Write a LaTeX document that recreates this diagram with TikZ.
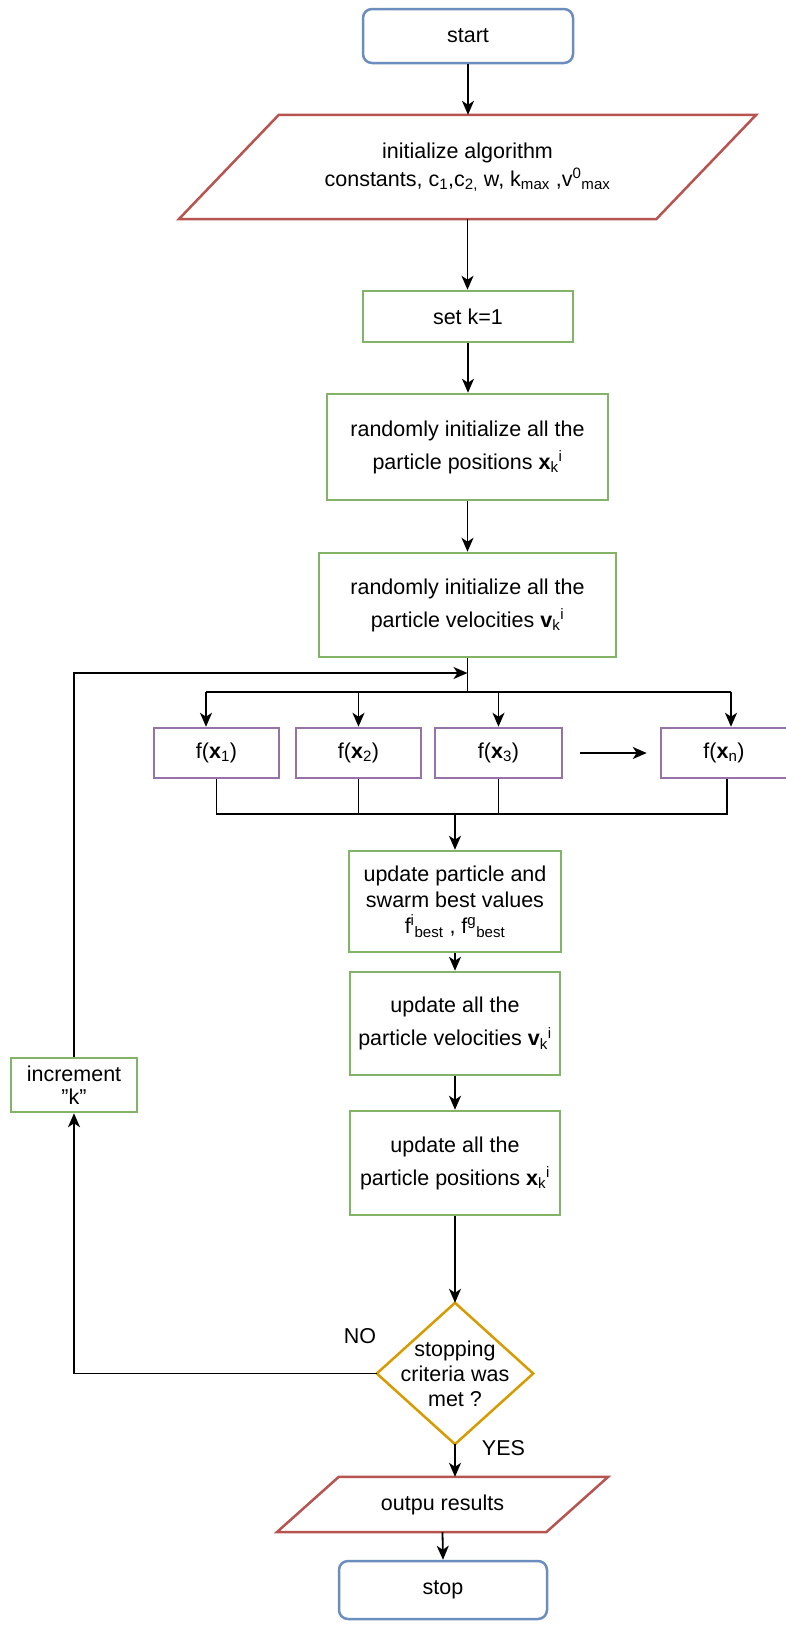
\documentclass[tikz,border=0pt]{standalone}
\usepackage{fontspec}
\setmainfont{Liberation Sans}
\usetikzlibrary{arrows.meta,calc}
\definecolor{cblue}{HTML}{6C8EBF}
\definecolor{cred}{HTML}{B85450}
\definecolor{cgreen}{HTML}{82B366}
\definecolor{cpurple}{HTML}{9673A6}
\definecolor{corange}{HTML}{D79B00}
\begin{document}
\begin{tikzpicture}[x=1pt,y=-1pt,
  every node/.style={font=\fontsize{21.5}{26}\selectfont, align=center, inner sep=0pt},
  term/.style={draw=cblue, rounded corners=9pt, line width=2.5pt, fill=white},
  proc/.style={draw=cgreen, line width=2.5pt, fill=white},
  fbox/.style={draw=cpurple, line width=2.5pt, fill=white, minimum height=50pt},
  shapeline/.style={line width=2.5pt},
  ln/.style={line width=1.8pt},
  arr/.style={line width=1.8pt, -{Stealth[length=14pt,width=12pt,inset=4pt]}},
]
\useasboundingbox (0,0) rectangle (785,1634);

% nodes
\node[term, minimum width=210pt, minimum height=54pt] (start) at (468,36) {start};
\node[minimum width=577pt, minimum height=104pt] (init) at (467.5,167)
  {initialize algorithm\\[2pt]constants, c\textsubscript{1},c\textsubscript{2,} w, k\textsubscript{max} ,v\textsuperscript{0}\textsubscript{max}};
\draw[shapeline, draw=cred] (init.south west) -- ([xshift=100pt]init.north west) -- (init.north east) -- ([xshift=-100pt]init.south east) -- cycle;
\node[proc, minimum width=210pt, minimum height=51pt] (setk) at (468,316.5) {set k=1};
\node[proc, minimum width=281pt, minimum height=106pt] (pos) at (467.5,447)
  {randomly initialize all the\\[7pt]particle positions \textbf{x}\textsubscript{k}\textsuperscript{i}};
\node[proc, minimum width=297pt, minimum height=104pt] (vel) at (467.5,605)
  {randomly initialize all the\\[7pt]particle velocities \textbf{v}\textsubscript{k}\textsuperscript{i}};

\node[fbox, minimum width=125pt] (f1) at (216.5,753) {f(\textbf{x}\textsubscript{1})};
\node[fbox, minimum width=125pt] (f2) at (358.5,753) {f(\textbf{x}\textsubscript{2})};
\node[fbox, minimum width=127pt] (f3) at (498.5,753) {f(\textbf{x}\textsubscript{3})};
\node[fbox, minimum width=126pt] (fn) at (724,753) {f(\textbf{x}\textsubscript{n})};

\node[proc, minimum width=212pt, minimum height=101pt] (upd1) at (455,901.5)
  {update particle and\\swarm best values\\f\textsuperscript{i}\textsubscript{best} , f\textsuperscript{g}\textsubscript{best}};
\node[proc, minimum width=210pt, minimum height=103pt] (upd2) at (455,1023.5)
  {update all the\\[7pt]particle velocities \textbf{v}\textsubscript{k}\textsuperscript{i}};
\node[proc, minimum width=210pt, minimum height=104pt] (upd3) at (455,1163)
  {update all the\\[7pt]particle positions \textbf{x}\textsubscript{k}\textsuperscript{i}};

\node[minimum width=156pt, minimum height=141pt] (dia) at (455,1373.5)
  {stopping\\[-1pt]criteria was\\[-1pt]met ?};
\draw[shapeline, draw=corange] (dia.north) -- (dia.east) -- (dia.south) -- (dia.west) -- cycle;

\node[proc, minimum width=126pt, minimum height=54pt] (inc) at (74,1085) {increment\\[-3pt]\symbol{34}k\symbol{34}};

\node[minimum width=331pt, minimum height=55pt] (out) at (442.5,1504.5) {outpu results};
\draw[shapeline, draw=cred] (out.south west) -- ([xshift=62pt]out.north west) -- (out.north east) -- ([xshift=-62pt]out.south east) -- cycle;

\node[term, minimum width=208pt, minimum height=58pt] (stop) at (443,1590) {stop};

\node (no) at (360,1336) {NO};
\node (yes) at (503.5,1448) {YES};

% coordinates
\coordinate (jn) at (467.5,673);
\coordinate (dist) at (467.5,692);
\coordinate (d1) at (206,692);
\coordinate (dn) at (731,692);
\coordinate (col) at (455,814);

% connectors
\draw[arr] (start.south) -- (start.south |- init.north);
\draw[arr] (init.south) -- (init.south |- setk.north);
\draw[arr] (setk.south) -- (setk.south |- pos.north);
\draw[arr] (pos.south) -- (pos.south |- vel.north);
\draw[ln] (vel.south) -- (dist);
\draw[ln] (d1) -- (dn);
\draw[arr] (d1) -- (d1 |- f1.north);
\draw[arr] (f2.north |- dist) -- (f2.north);
\draw[arr] (f3.north |- dist) -- (f3.north);
\draw[arr] (dn) -- (dn |- fn.north);
\draw[arr, shorten <=17pt, shorten >=13pt] (f3.east) -- (fn.west);
\draw[ln] (f1.south) -- (f1.south |- col) -- ([xshift=3pt]fn.south |- col) -- ([xshift=3pt]fn.south);
\draw[ln] (f2.south) -- (f2.south |- col);
\draw[ln] (f3.south) -- (f3.south |- col);
\draw[arr] (col) -- (col |- upd1.north);
\draw[arr] (upd1.south) -- (upd2.north);
\draw[arr] (upd2.south) -- (upd3.north);
\draw[arr] (upd3.south) -- (dia.north);
\draw[arr] (dia.south) -- (dia.south |- out.north);
\draw[arr] (out.south) -- (stop.north);
\draw[arr] (dia.west) -| (inc.south);
\draw[arr] (inc.north) |- (jn);
\end{tikzpicture}
\end{document}
